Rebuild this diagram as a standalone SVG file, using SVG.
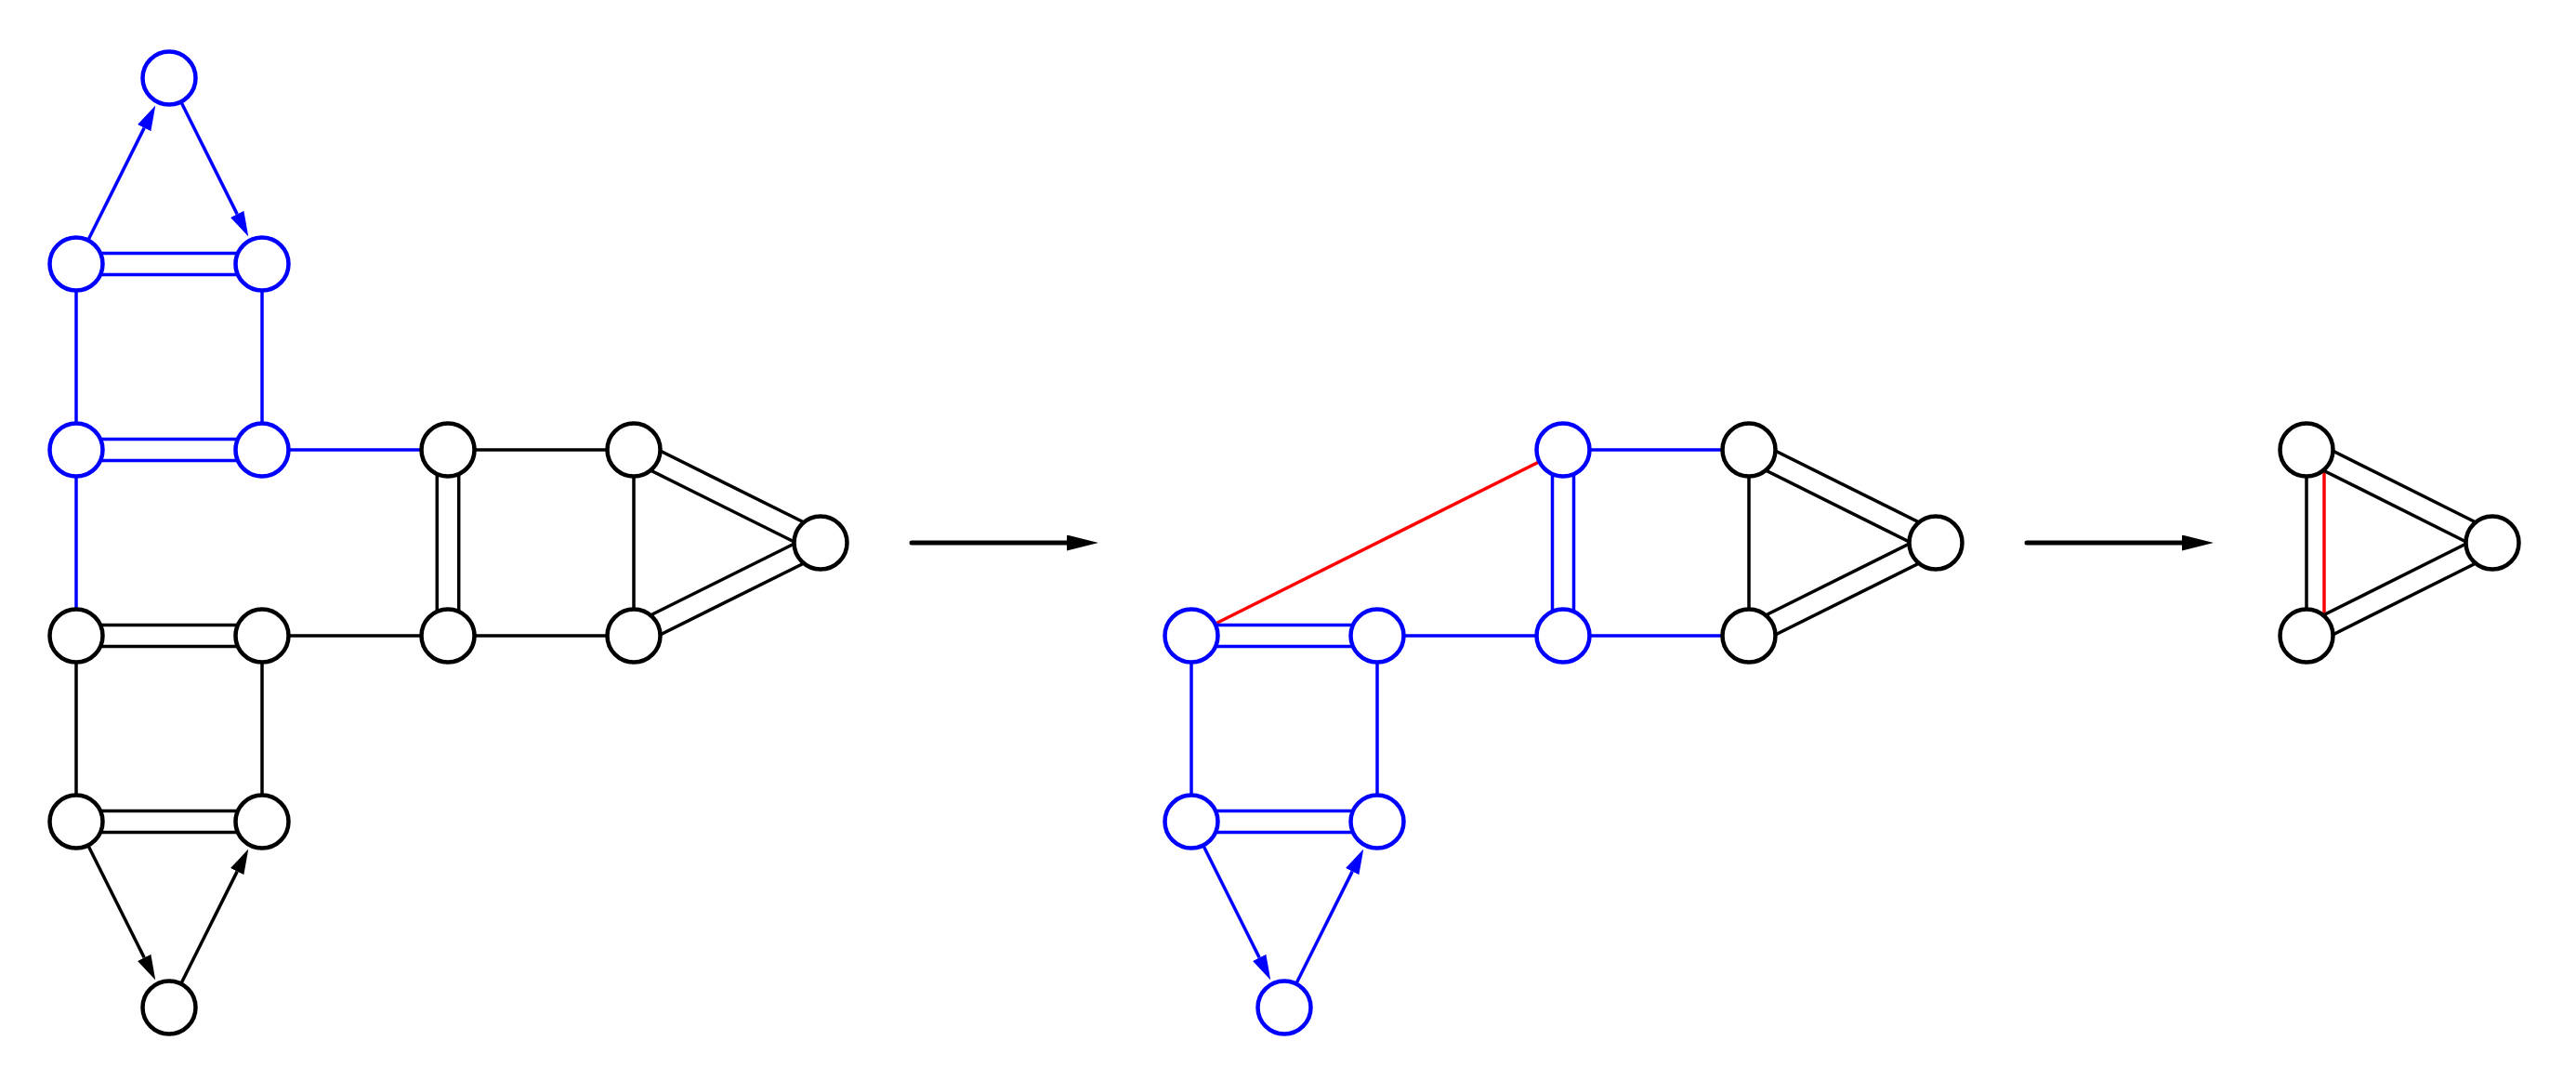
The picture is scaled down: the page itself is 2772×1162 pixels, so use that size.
<svg xmlns="http://www.w3.org/2000/svg" width="2772" height="1162" viewBox="0 0 2772 1162">
<style>
line{stroke-width:3.5;fill:none}
.b{stroke:#0000ff}
.k{stroke:#000000}
.r{stroke:#ff0000}
.big{stroke:#000000;stroke-width:5;stroke-linecap:round}
circle{fill:#ffffff;stroke-width:4.5}
circle.nb{stroke:#0000ff}
circle.nk{stroke:#000000}
</style>
<defs>
<marker id="ab" markerUnits="userSpaceOnUse" viewBox="0 0 27 16" markerWidth="27" markerHeight="16" refX="0" refY="8" orient="auto"><path d="M0,0 L27,8 L0,16 z" fill="#0000ff"/></marker>
<marker id="ak" markerUnits="userSpaceOnUse" viewBox="0 0 27 16" markerWidth="27" markerHeight="16" refX="0" refY="8" orient="auto"><path d="M0,0 L27,8 L0,16 z" fill="#000000"/></marker>
<marker id="abig" markerUnits="userSpaceOnUse" viewBox="0 0 34 17" markerWidth="34" markerHeight="17" refX="0" refY="8.5" orient="auto"><path d="M0,0 L34,8.5 L0,17 z" fill="#000000"/></marker>
</defs>
<rect width="2772" height="1162" fill="#ffffff"/>
<g id="connectors">
<!-- left graph -->
<line class="b" x1="82" y1="284" x2="155.2" y2="137.6" marker-end="url(#ab)"/>
<line class="b" x1="182" y1="84" x2="255.2" y2="230.4" marker-end="url(#ab)"/>
<line class="b" x1="82" y1="272.5" x2="282" y2="272.5"/>
<line class="b" x1="82" y1="295.5" x2="282" y2="295.5"/>
<line class="b" x1="82" y1="284" x2="82" y2="484"/>
<line class="b" x1="282" y1="284" x2="282" y2="484"/>
<line class="b" x1="82" y1="472.5" x2="282" y2="472.5"/>
<line class="b" x1="82" y1="495.5" x2="282" y2="495.5"/>
<line class="b" x1="282" y1="484" x2="482" y2="484"/>
<line class="b" x1="82" y1="484" x2="82" y2="684"/>
<line class="k" x1="482" y1="484" x2="682" y2="484"/>
<line class="k" x1="470.3" y1="484" x2="470.3" y2="684"/>
<line class="k" x1="493.7" y1="484" x2="493.7" y2="684"/>
<line class="k" x1="682" y1="484" x2="682" y2="684"/>
<line class="k" x1="676.77" y1="494.46" x2="877.77" y2="594.46"/>
<line class="k" x1="687.23" y1="473.54" x2="888.23" y2="573.54"/>
<line class="k" x1="687.23" y1="694.46" x2="888.23" y2="594.46"/>
<line class="k" x1="676.77" y1="673.54" x2="877.77" y2="573.54"/>
<line class="k" x1="82" y1="672.5" x2="282" y2="672.5"/>
<line class="k" x1="82" y1="695.5" x2="282" y2="695.5"/>
<line class="k" x1="282" y1="684" x2="482" y2="684"/>
<line class="k" x1="482" y1="684" x2="682" y2="684"/>
<line class="k" x1="82" y1="684" x2="82" y2="884"/>
<line class="k" x1="282" y1="684" x2="282" y2="884"/>
<line class="k" x1="82" y1="872.5" x2="282" y2="872.5"/>
<line class="k" x1="82" y1="895.5" x2="282" y2="895.5"/>
<line class="k" x1="82" y1="884" x2="155.2" y2="1030.4" marker-end="url(#ak)"/>
<line class="k" x1="182" y1="1084" x2="255.2" y2="937.6" marker-end="url(#ak)"/>
<!-- transition arrows -->
<line class="big" x1="981" y1="584" x2="1148" y2="584" marker-end="url(#abig)"/>
<line class="big" x1="2181" y1="584" x2="2348" y2="584" marker-end="url(#abig)"/>
<!-- middle graph -->
<line class="r" x1="1282" y1="684" x2="1682" y2="484"/>
<line class="b" x1="1682" y1="484" x2="1882" y2="484"/>
<line class="b" x1="1670.5" y1="484" x2="1670.5" y2="684"/>
<line class="b" x1="1693.5" y1="484" x2="1693.5" y2="684"/>
<line class="b" x1="1282" y1="672.5" x2="1482" y2="672.5"/>
<line class="b" x1="1282" y1="695.5" x2="1482" y2="695.5"/>
<line class="b" x1="1482" y1="684" x2="1682" y2="684"/>
<line class="b" x1="1682" y1="684" x2="1882" y2="684"/>
<line class="k" x1="1882" y1="484" x2="1882" y2="684"/>
<line class="k" x1="1876.77" y1="494.46" x2="2077.77" y2="594.46"/>
<line class="k" x1="1887.23" y1="473.54" x2="2088.23" y2="573.54"/>
<line class="k" x1="1887.23" y1="694.46" x2="2088.23" y2="594.46"/>
<line class="k" x1="1876.77" y1="673.54" x2="2077.77" y2="573.54"/>
<line class="b" x1="1282" y1="684" x2="1282" y2="884"/>
<line class="b" x1="1482" y1="684" x2="1482" y2="884"/>
<line class="b" x1="1282" y1="872.5" x2="1482" y2="872.5"/>
<line class="b" x1="1282" y1="895.5" x2="1482" y2="895.5"/>
<line class="b" x1="1282" y1="884" x2="1355.2" y2="1030.4" marker-end="url(#ab)"/>
<line class="b" x1="1382" y1="1084" x2="1455.2" y2="937.6" marker-end="url(#ab)"/>
<!-- right graph -->
<line class="k" x1="2482" y1="484" x2="2482" y2="684"/>
<line class="r" x1="2501" y1="484" x2="2501" y2="684"/>
<line class="k" x1="2476.77" y1="494.46" x2="2676.77" y2="594.46"/>
<line class="k" x1="2487.23" y1="473.54" x2="2687.23" y2="573.54"/>
<line class="k" x1="2487.23" y1="694.46" x2="2687.23" y2="594.46"/>
<line class="k" x1="2476.77" y1="673.54" x2="2676.77" y2="573.54"/>
</g>
<!-- left graph nodes -->
<g id="L1"><circle class="nb" cx="182" cy="84" r="28.5"/></g>
<g id="L2"><circle class="nb" cx="82" cy="284" r="28.5"/></g>
<g id="L3"><circle class="nb" cx="282" cy="284" r="28.5"/></g>
<g id="L4"><circle class="nb" cx="82" cy="484" r="28.5"/></g>
<g id="L5"><circle class="nb" cx="282" cy="484" r="28.5"/></g>
<g id="L6"><circle class="nk" cx="482" cy="484" r="28.5"/></g>
<g id="L7"><circle class="nk" cx="682" cy="484" r="28.5"/></g>
<g id="L8"><circle class="nk" cx="883" cy="584" r="28.5"/></g>
<g id="L9"><circle class="nk" cx="82" cy="684" r="28.5"/></g>
<g id="L10"><circle class="nk" cx="282" cy="684" r="28.5"/></g>
<g id="L11"><circle class="nk" cx="482" cy="684" r="28.5"/></g>
<g id="L12"><circle class="nk" cx="682" cy="684" r="28.5"/></g>
<g id="L13"><circle class="nk" cx="82" cy="884" r="28.5"/></g>
<g id="L14"><circle class="nk" cx="282" cy="884" r="28.5"/></g>
<g id="L15"><circle class="nk" cx="182" cy="1084" r="28.5"/></g>
<!-- middle graph nodes -->
<g id="M1"><circle class="nb" cx="1682" cy="484" r="28.5"/></g>
<g id="M2"><circle class="nk" cx="1882" cy="484" r="28.5"/></g>
<g id="M3"><circle class="nk" cx="2083" cy="584" r="28.5"/></g>
<g id="M4"><circle class="nb" cx="1282" cy="684" r="28.5"/></g>
<g id="M5"><circle class="nb" cx="1482" cy="684" r="28.5"/></g>
<g id="M6"><circle class="nb" cx="1682" cy="684" r="28.5"/></g>
<g id="M7"><circle class="nk" cx="1882" cy="684" r="28.5"/></g>
<g id="M8"><circle class="nb" cx="1282" cy="884" r="28.5"/></g>
<g id="M9"><circle class="nb" cx="1482" cy="884" r="28.5"/></g>
<g id="M10"><circle class="nb" cx="1382" cy="1084" r="28.5"/></g>
<!-- right graph nodes -->
<g id="R1"><circle class="nk" cx="2482" cy="484" r="28.5"/></g>
<g id="R2"><circle class="nk" cx="2682" cy="584" r="28.5"/></g>
<g id="R3"><circle class="nk" cx="2482" cy="684" r="28.5"/></g>
</svg>
